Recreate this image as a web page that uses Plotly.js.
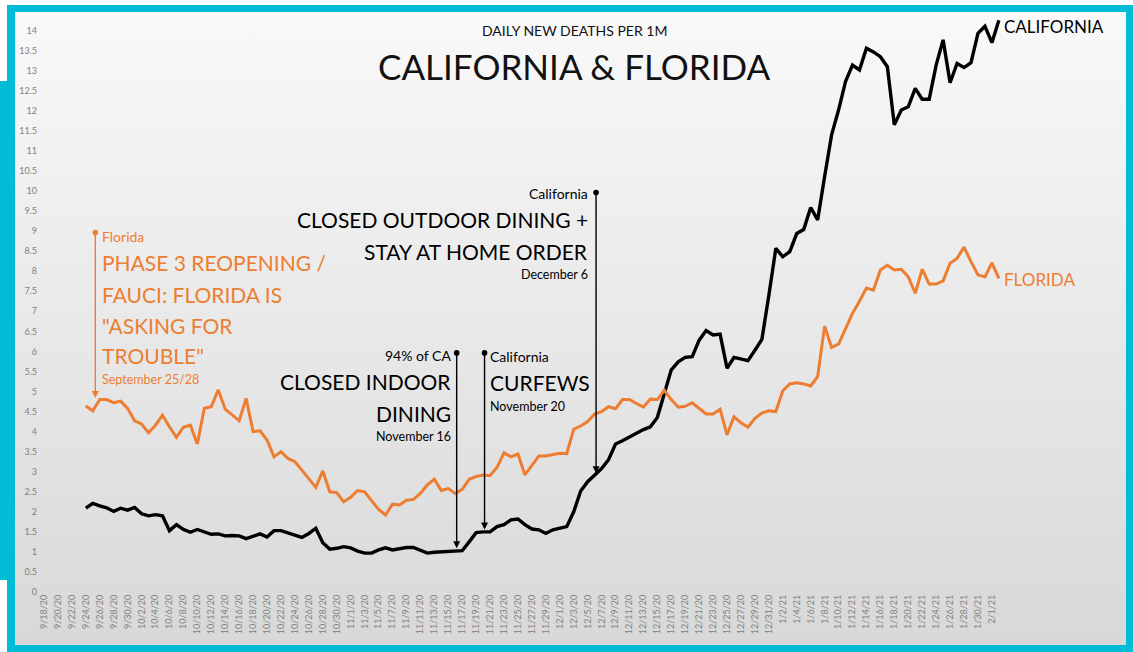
<!DOCTYPE html>
<html><head><meta charset="utf-8">
<script src="https://cdn.plot.ly/plotly-3.0.1.min.js"></script>
<style>
html,body{margin:0;padding:0;background:#fff;}
#wrap{position:relative;width:1133px;height:652px;overflow:hidden;background:#fff;}
.c{position:absolute;background:#00BCD4;}
#inner{position:absolute;left:15px;top:12px;width:1111px;height:633px;background:linear-gradient(#f9f9f9,#d8d8d8);}
#chart{position:absolute;left:0;top:0;width:1133px;height:652px;}
</style></head><body>
<div id="wrap">
<div class="c" style="left:7px;top:5px;width:1126px;height:7px"></div>
<div class="c" style="left:7px;top:5px;width:8px;height:647px"></div>
<div class="c" style="left:0;top:81px;width:7px;height:499px"></div>
<div class="c" style="left:7px;top:645px;width:1126px;height:7px"></div>
<div class="c" style="left:1126px;top:5px;width:7px;height:647px"></div>
<div id="inner"></div>
<div id="chart"></div>
</div>
<script>
// categories: daily dates 9/18/20 .. 2/2/21
const firstDay = [2020, 8, 18];
const dayCount = 138;
const dates = [];
for (let i = 0; i < dayCount; i++) {
  const d = new Date(Date.UTC(firstDay[0], firstDay[1], firstDay[2] + i));
  dates.push(d.toISOString().slice(0, 10));
}
const tickDates = dates.filter((d, i) => i % 2 === 0 && i <= 136);
const seriesDates = dates.slice(6); // data begins 9/24/20

const california = [2.09,2.21,2.15,2.10,2.01,2.09,2.04,2.11,1.95,1.90,
1.93,1.90,1.53,1.68,1.56,1.49,1.56,1.50,1.44,1.45,
1.40,1.41,1.40,1.33,1.40,1.45,1.37,1.53,1.53,1.47,
1.42,1.36,1.46,1.59,1.23,1.07,1.09,1.13,1.10,1.02,
0.97,0.97,1.05,1.10,1.05,1.09,1.11,1.11,1.05,0.97,
0.99,1.00,1.02,1.03,1.03,1.25,1.48,1.50,1.50,1.63,
1.68,1.80,1.82,1.68,1.57,1.55,1.46,1.55,1.58,1.63,
2.00,2.52,2.75,2.92,3.08,3.30,3.69,3.77,3.86,3.97,
4.05,4.12,4.35,4.95,5.54,5.74,5.85,5.87,6.28,6.52,
6.41,6.43,5.58,5.85,5.82,5.77,6.03,6.30,7.40,8.57,
8.36,8.49,8.94,9.04,9.59,9.28,10.36,11.40,12.02,12.73,
13.14,13.02,13.56,13.47,13.35,13.10,11.65,12.02,12.10,12.56,
12.29,12.29,13.14,13.77,12.70,13.18,13.08,13.20,13.93,14.11,
13.70,14.26];

const florida = [4.64,4.52,4.80,4.80,4.72,4.76,4.58,4.27,4.19,3.97,
4.16,4.41,4.12,3.86,4.11,4.16,3.69,4.58,4.62,5.04,
4.56,4.41,4.27,4.83,4.00,4.02,3.79,3.37,3.50,3.33,
3.25,3.04,2.82,2.61,3.02,2.50,2.48,2.25,2.36,2.53,
2.50,2.28,2.06,1.92,2.19,2.17,2.29,2.31,2.46,2.67,
2.81,2.53,2.58,2.46,2.56,2.81,2.88,2.92,2.90,3.11,
3.47,3.37,3.44,2.92,3.17,3.39,3.39,3.42,3.46,3.45,
4.06,4.14,4.25,4.44,4.50,4.62,4.57,4.80,4.80,4.70,
4.61,4.81,4.80,5.03,4.80,4.61,4.63,4.72,4.59,4.44,
4.44,4.56,3.92,4.37,4.22,4.11,4.33,4.46,4.52,4.50,
5.02,5.19,5.22,5.19,5.14,5.37,6.63,6.10,6.18,6.58,
6.95,7.25,7.58,7.53,8.03,8.15,8.03,8.05,7.86,7.45,
8.05,7.68,7.68,7.76,8.20,8.32,8.60,8.24,7.91,7.86,
8.21,7.82];

const ORANGE = '#ED7D31';
const BLACK = '#000000';
const FONT = 'Lato, "Open Sans", sans-serif';

function note(text, x, y, size, color, xanchor, xref) {
  return {text: text, x: x, y: y, xref: xref || 'x', yref: 'y',
    xanchor: xanchor || 'left', yanchor: 'middle', showarrow: false,
    font: {family: FONT, size: size, color: color}};
}
function marker(x, yTip, yTop, color) {
  return {text: '', x: x, y: yTip, ax: x, ay: yTop, axref: 'x', ayref: 'y',
    xref: 'x', yref: 'y', showarrow: true, arrowside: 'end+start',
    arrowhead: 2, startarrowhead: 6, arrowsize: 1, startarrowsize: 1,
    arrowwidth: 1.4, arrowcolor: color, standoff: 0, startstandoff: 0};
}

const annotations = [
  note('DAILY NEW DEATHS PER 1M', 0.4963, 14.01, 14, '#111', 'center', 'paper'),
  note('CALIFORNIA &amp; FLORIDA', 0.4963, 13.12, 35, '#111', 'center', 'paper'),
  // Florida event
  marker('2020-09-25 08:40', 4.84, 9.0, ORANGE),
  note('Florida', '2020-09-26 00:00', 8.86, 14, ORANGE, 'left'),
  note('PHASE 3 REOPENING /', '2020-09-26 00:00', 8.21, 21, ORANGE, 'left'),
  note('FAUCI: FLORIDA IS', '2020-09-26 00:00', 7.43, 21, ORANGE, 'left'),
  note('"ASKING FOR', '2020-09-26 00:00', 6.65, 21, ORANGE, 'left'),
  note('TROUBLE"', '2020-09-26 00:00', 5.89, 21, ORANGE, 'left'),
  note('September 25/28', '2020-09-26 00:00', 5.30, 12.5, ORANGE, 'left'),
  // Nov 16
  marker('2020-11-16 05:00', 1.09, 6.0, BLACK),
  note('94% of CA', '2020-11-15 16:00', 5.89, 14, BLACK, 'right'),
  note('CLOSED INDOOR', '2020-11-15 16:00', 5.24, 21, BLACK, 'right'),
  note('DINING', '2020-11-15 16:00', 4.46, 21, BLACK, 'right'),
  note('November 16', '2020-11-15 16:00', 3.87, 12.5, BLACK, 'right'),
  // Nov 20
  marker('2020-11-20 05:00', 1.56, 6.0, BLACK),
  note('California', '2020-11-20 18:00', 5.87, 14, BLACK, 'left'),
  note('CURFEWS', '2020-11-20 18:00', 5.22, 21, BLACK, 'left'),
  note('November 20', '2020-11-20 18:00', 4.62, 12.5, BLACK, 'left'),
  // Dec 6
  marker('2020-12-06 05:00', 2.96, 10.0, BLACK),
  note('California', '2020-12-05 08:00', 9.93, 14, BLACK, 'right'),
  note('CLOSED OUTDOOR DINING +', '2020-12-05 08:00', 9.28, 21, BLACK, 'right'),
  note('STAY AT HOME ORDER', '2020-12-05 08:00', 8.49, 21, BLACK, 'right'),
  note('December 6', '2020-12-05 08:00', 7.91, 12.5, BLACK, 'right'),
  // series labels
  note('CALIFORNIA', '2021-02-02 10:00', 14.10, 17, BLACK, 'left'),
  note('FLORIDA', '2021-02-02 10:00', 7.80, 17, ORANGE, 'left')
];

const traces = [
  {x: seriesDates, y: california, type: 'scatter', mode: 'lines', name: 'California',
   line: {color: BLACK, width: 3.4}, hoverinfo: 'skip'},
  {x: seriesDates, y: florida, type: 'scatter', mode: 'lines', name: 'Florida',
   line: {color: ORANGE, width: 3.0}, hoverinfo: 'skip'}
];

const layout = {
  width: 1133, height: 652,
  margin: {l: 38, r: 13, t: 15, b: 60, pad: 0},
  paper_bgcolor: 'rgba(0,0,0,0)', plot_bgcolor: 'rgba(0,0,0,0)',
  showlegend: false,
  font: {family: FONT},
  xaxis: {type: 'date', range: ['2020-09-17 03:20', '2021-02-19 09:07'],
    tickmode: 'array', tickvals: tickDates, tickformat: '%-m/%-d/%y',
    tickangle: -90, tickfont: {family: FONT, size: 9, color: '#808080'},
    showgrid: false, zeroline: false, showline: false, ticks: ''},
  yaxis: {range: [0, 14.39], tickmode: 'linear', tick0: 0, dtick: 0.5,
    tickfont: {family: FONT, size: 9, color: '#808080'},
    showgrid: false, zeroline: false, showline: false, ticks: ''},
  annotations: annotations
};

Plotly.newPlot('chart', traces, layout, {staticPlot: true, displayModeBar: false});
</script>
</body></html>
